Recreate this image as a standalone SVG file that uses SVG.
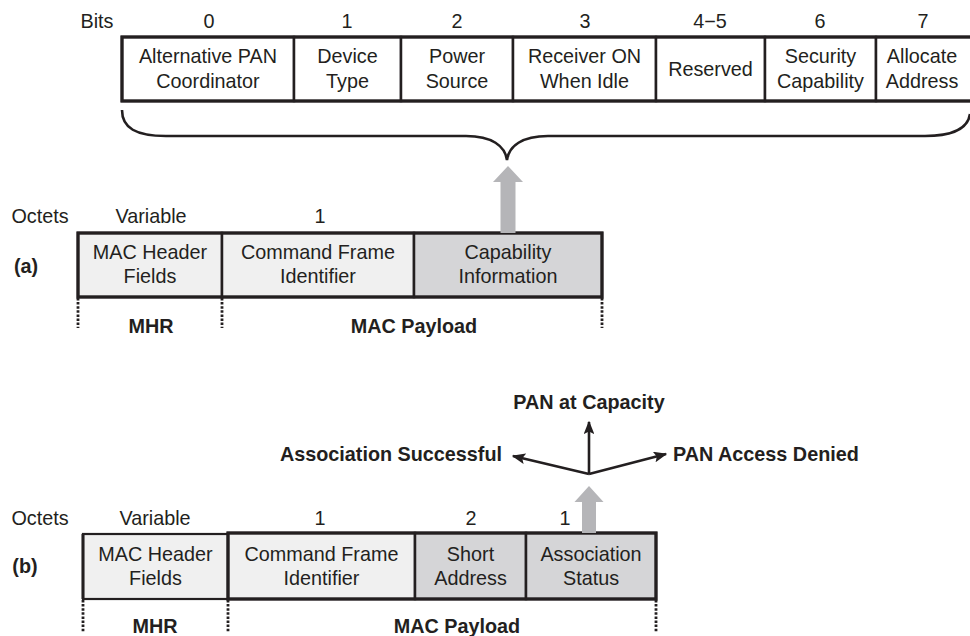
<svg xmlns="http://www.w3.org/2000/svg" width="970" height="636" viewBox="0 0 970 636">
  <style>
    text { font-family: "Liberation Sans", Arial, Helvetica, sans-serif; font-size: 19.8px; fill: #231f20; text-anchor: middle; }
    .b { font-weight: bold; }
    .cell { stroke: #231f20; stroke-width: 2.5; }
    .frame { fill: none; stroke: #231f20; stroke-width: 3.2; }
    .white { fill: #ffffff; }
    .light { fill: #f0f0f0; }
    .dark { fill: #d5d5d7; }
    .dots { stroke: #231f20; stroke-width: 2.8; stroke-dasharray: 2.5 1.6; fill: none; }
    .blk { stroke: #231f20; stroke-width: 2.6; fill: none; }
    .fat { fill: #b5b5b8; }
  </style>
  <defs>
    <marker id="head" viewBox="0 0 10 8" refX="9" refY="4" markerWidth="5.2" markerHeight="4.2" orient="auto" markerUnits="strokeWidth">
      <path d="M0,0 L10,4 L0,8 L2,4 Z" fill="#231f20"/>
    </marker>
  </defs>

  <!-- capability information bit field -->
  <g id="bits">
    <text x="97" y="28">Bits</text>
    <text x="209" y="28">0</text>
    <text x="347" y="28">1</text>
    <text x="457" y="28">2</text>
    <text x="585" y="28">3</text>
    <text x="710" y="28">4−5</text>
    <text x="820" y="28">6</text>
    <text x="923" y="28">7</text>
  </g>
  <g id="bit0"><rect class="cell white" x="122" y="37" width="172" height="64"/>
    <text x="208" y="63">Alternative PAN</text><text x="208" y="88">Coordinator</text></g>
  <g id="bit1"><rect class="cell white" x="294" y="37" width="107" height="64"/>
    <text x="347.5" y="63">Device</text><text x="347.5" y="88">Type</text></g>
  <g id="bit2"><rect class="cell white" x="401" y="37" width="112" height="64"/>
    <text x="457" y="63">Power</text><text x="457" y="88">Source</text></g>
  <g id="bit3"><rect class="cell white" x="513" y="37" width="143" height="64"/>
    <text x="584.5" y="63">Receiver ON</text><text x="584.5" y="88">When Idle</text></g>
  <g id="bit45"><rect class="cell white" x="656" y="37" width="109" height="64"/>
    <text x="710.5" y="76">Reserved</text></g>
  <g id="bit6"><rect class="cell white" x="765" y="37" width="111" height="64"/>
    <text x="820.5" y="63">Security</text><text x="820.5" y="88">Capability</text></g>
  <g id="bit7"><rect class="cell white" x="876" y="37" width="100" height="64"/>
    <text x="922" y="63">Allocate</text><text x="922" y="88">Address</text></g>
  <rect class="frame" x="122" y="37" width="854" height="64"/>

  <!-- brace grouping the bit field -->
  <path id="brace" class="blk" d="M122,110 C122,128 136,136 166,136 L466,136 C492,136 505,146 507,160 C509,146 522,136 548,136 L925,136 C955,136 968,128 970,114"/>

  <!-- (a) association request frame -->
  <g id="frameA-labels">
    <text x="40" y="223">Octets</text>
    <text x="151" y="223">Variable</text>
    <text x="320" y="223">1</text>
    <text class="b" x="26" y="273">(a)</text>
  </g>
  <g id="a-mhr"><rect class="cell light" x="78" y="233" width="144" height="64"/>
    <text x="150" y="259">MAC Header</text><text x="150" y="283">Fields</text></g>
  <g id="a-cmd"><rect class="cell light" x="222" y="233" width="192" height="64"/>
    <text x="318" y="259">Command Frame</text><text x="318" y="283">Identifier</text></g>
  <g id="a-cap"><rect class="cell dark" x="414" y="233" width="188" height="64"/>
    <text x="508" y="259">Capability</text><text x="508" y="283">Information</text></g>
  <rect class="frame" x="78" y="233" width="524" height="64"/>
  <g id="a-extent">
    <path class="dots" d="M78,298 V328 M222,298 V328 M602,298 V328"/>
    <text class="b" x="151" y="333">MHR</text>
    <text class="b" x="414" y="333">MAC Payload</text>
  </g>

  <!-- (b) association response frame -->
  <g id="frameB-labels">
    <text x="40" y="525">Octets</text>
    <text x="155" y="525">Variable</text>
    <text x="320" y="525">1</text>
    <text x="471" y="525">2</text>
    <text x="565" y="525">1</text>
    <text class="b" x="25" y="573">(b)</text>
  </g>
  <g id="b-mhr"><rect class="cell light" x="83" y="534" width="145" height="65" style="stroke-width:2.2"/>
    <text x="155.5" y="561">MAC Header</text><text x="155.5" y="585">Fields</text></g>
  <g id="b-cmd"><rect class="cell light" x="228" y="533" width="187" height="66"/>
    <text x="321.5" y="561">Command Frame</text><text x="321.5" y="585">Identifier</text></g>
  <g id="b-short"><rect class="cell dark" x="415" y="533" width="111" height="66"/>
    <text x="470.5" y="561">Short</text><text x="470.5" y="585">Address</text></g>
  <g id="b-status"><rect class="cell dark" x="526" y="533" width="130" height="66"/>
    <text x="591" y="561">Association</text><text x="591" y="585">Status</text></g>
  <rect class="frame" x="228" y="533" width="428" height="66"/>
  <line x1="83" y1="534" x2="83" y2="599" stroke="#231f20" stroke-width="3"/>
  <g id="b-extent">
    <path class="dots" d="M83,600 V632 M228,600 V632 M656,600 V632"/>
    <text class="b" x="155" y="633">MHR</text>
    <text class="b" x="457" y="633">MAC Payload</text>
  </g>

  <!-- status outcomes -->
  <g id="status-labels">
    <text class="b" x="589" y="409">PAN at Capacity</text>
    <text class="b" x="502" y="461" style="text-anchor:end">Association Successful</text>
    <text class="b" x="673" y="461" style="text-anchor:start">PAN Access Denied</text>
  </g>

  <!-- connectors -->
  <g id="connectors">
    <polygon class="fat" points="500.5,233 500.5,182 493,182 508,166 523,182 515.5,182 515.5,233"/>
    <polygon class="fat" points="582,533 582,502 574.5,502 589,486 603.5,502 596,502 596,533"/>
    <line class="blk" x1="589" y1="474" x2="589" y2="422" marker-end="url(#head)"/>
    <line class="blk" x1="589" y1="474" x2="513" y2="456" marker-end="url(#head)"/>
    <line class="blk" x1="589" y1="474" x2="666" y2="454" marker-end="url(#head)"/>
  </g>
</svg>
